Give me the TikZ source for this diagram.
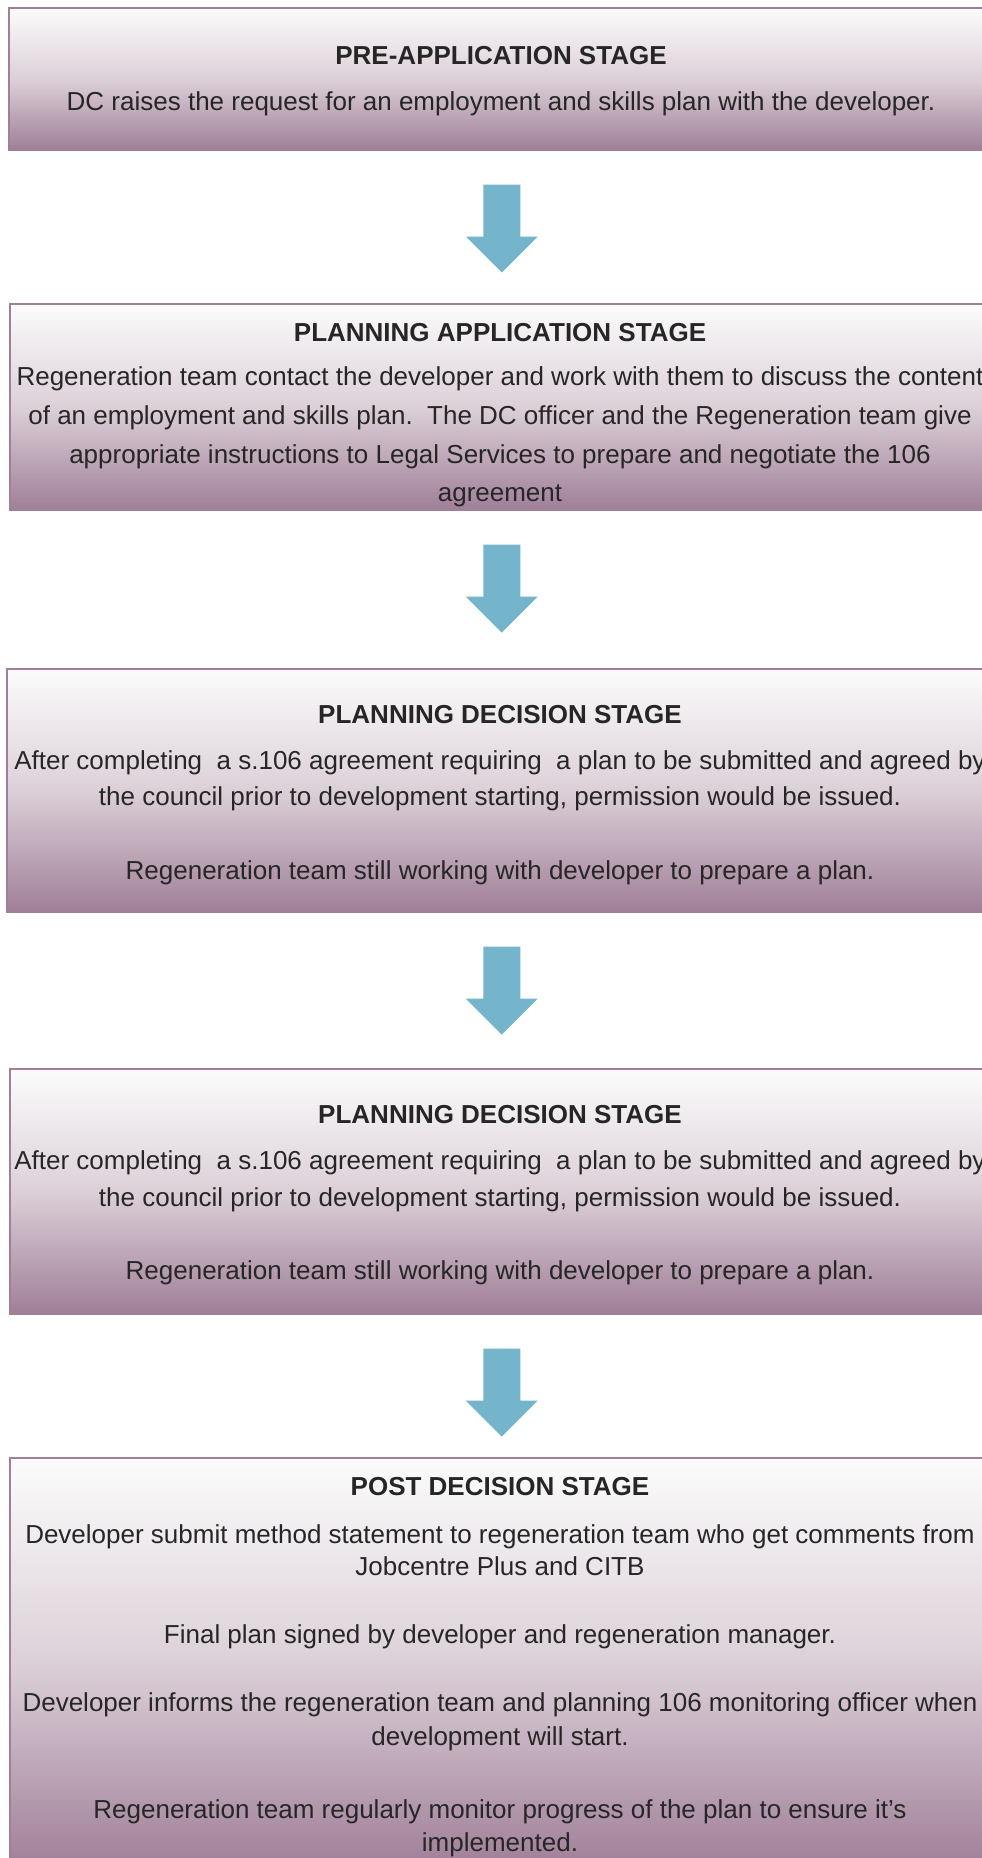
\documentclass[tikz,border=0pt]{standalone}
\usepackage{fontspec}
\setmainfont{Liberation Sans}
\usetikzlibrary{calc}
\definecolor{boxpurple}{HTML}{A07F98}
\definecolor{boxtop}{HTML}{FCFCFC}
\definecolor{boxmid}{HTML}{DCD0D8}
\definecolor{arrowblue}{HTML}{74B5CB}
\definecolor{txt}{HTML}{262626}
\begin{document}
\begin{tikzpicture}[x=1pt,y=1pt,
  stagebox/.style={draw=boxpurple, line width=1.5pt, top color=boxtop, bottom color=boxpurple, middle color=boxmid, anchor=north west, inner sep=0pt},
  bodyline/.style={anchor=base, inner sep=0pt, text=txt, font=\fontsize{26}{32}\selectfont},
  titleline/.style={bodyline, font=\fontsize{26}{32}\selectfont\bfseries},
  blockarrow/.style={fill=arrowblue, draw=none}]
\useasboundingbox (0,0) rectangle (982,-1858);
\clip (0,0) rectangle (982,-1858);
% boxes
\node[stagebox, minimum width=986pt, minimum height=142pt] (b1) at (8,-7) {};
\node[stagebox, minimum width=984pt, minimum height=206pt] (b2) at (9,-303) {};
\node[stagebox, minimum width=990pt, minimum height=243pt] (b3) at (6,-668) {};
\node[stagebox, minimum width=984pt, minimum height=245pt] (b4) at (9,-1068) {};
\node[stagebox, minimum width=984pt, minimum height=410pt] (b5) at (9,-1457) {};
% arrows
\foreach \src/\dst [count=\i] in {b1/b2,b2/b3,b3/b4,b4/b5}{
  \coordinate (a\i) at ($(\src.south)+(0,-34)$);
  \fill[blockarrow] (a\i) ++(-18.5,0) -- ++(37,0) -- ++(0,-52) -- ++(17.5,0)
     -- ++(-36,-36) -- ++(-36,36) -- ++(17.5,0) -- cycle;
}
% box 1
\node[titleline] (t1) at (501,-64) {PRE-APPLICATION STAGE};
\node[bodyline] (t1a) at (501,-110) {DC raises the request for an employment and skills plan with the developer.};
% box 2
\node[titleline] (t2) at (500,-341) {PLANNING APPLICATION STAGE};
\node[bodyline] (t2a) at (500,-385) {Regeneration team contact the developer and work with them to discuss the content};
\node[bodyline] (t2b) at (500,-424) {of an employment and skills plan.\ \ The DC officer and the Regeneration team give};
\node[bodyline] (t2c) at (500,-463) {appropriate instructions to Legal Services to prepare and negotiate the 106};
\node[bodyline] (t2d) at (500,-501) {agreement};
% box 3
\node[titleline] (t3) at (500,-723) {PLANNING DECISION STAGE};
\node[bodyline] (t3a) at (500,-769) {After completing\ \ a s.106 agreement requiring\ \ a plan to be submitted and agreed by};
\node[bodyline] (t3b) at (500,-805) {the council prior to development starting, permission would be issued.};
\node[bodyline] (t3c) at (500,-879) {Regeneration team still working with developer to prepare a plan.};
% box 4
\node[titleline] (t4) at (500,-1123) {PLANNING DECISION STAGE};
\node[bodyline] (t4a) at (500,-1169) {After completing\ \ a s.106 agreement requiring\ \ a plan to be submitted and agreed by};
\node[bodyline] (t4b) at (500,-1206) {the council prior to development starting, permission would be issued.};
\node[bodyline] (t4c) at (500,-1279) {Regeneration team still working with developer to prepare a plan.};
% box 5
\node[titleline] (t5) at (500,-1495) {POST DECISION STAGE};
\node[bodyline] (t5a) at (500,-1543) {Developer submit method statement to regeneration team who get comments from};
\node[bodyline] (t5b) at (500,-1575) {Jobcentre Plus and CITB};
\node[bodyline] (t5c) at (500,-1643) {Final plan signed by developer and regeneration manager.};
\node[bodyline] (t5d) at (500,-1711) {Developer informs the regeneration team and planning 106 monitoring officer when};
\node[bodyline] (t5e) at (500,-1745) {development will start.};
\node[bodyline] (t5f) at (500,-1818) {Regeneration team regularly monitor progress of the plan to ensure it’s};
\node[bodyline] (t5g) at (500,-1851) {implemented.};
\end{tikzpicture}
\end{document}
